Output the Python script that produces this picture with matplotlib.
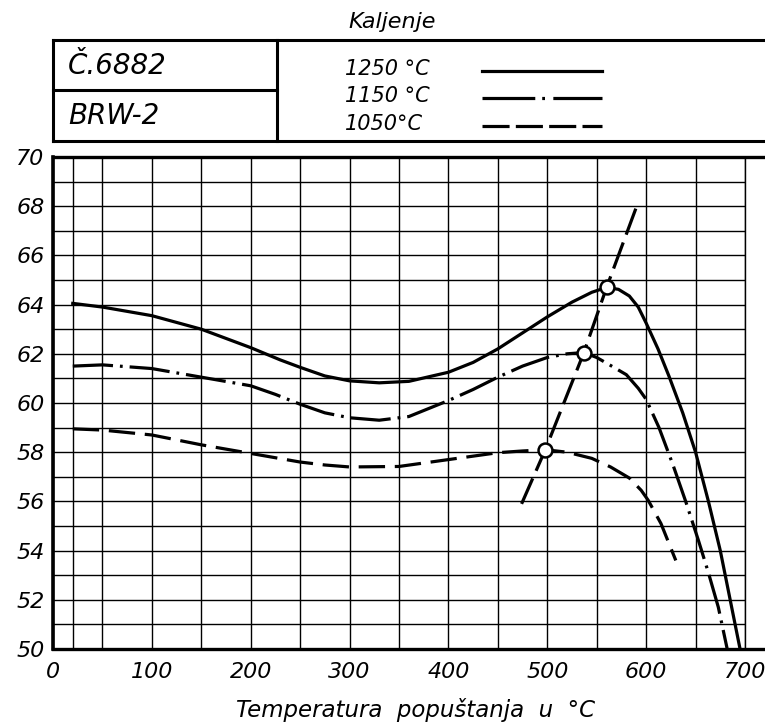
import matplotlib
matplotlib.use('Agg')
import matplotlib.pyplot as plt
from matplotlib.lines import Line2D

# tempering temperature (deg C) vs hardness
x_1250 = [20, 50, 100, 150, 200, 230, 250, 275, 300, 330, 360, 400, 425, 450, 475, 500, 525, 545, 560,
          572, 583, 592, 600, 612, 623, 637, 650, 663, 675, 685, 695]
y_1250 = [64.05, 63.9, 63.55, 63.0, 62.25, 61.75, 61.45, 61.1, 60.9, 60.82, 60.88, 61.25, 61.65, 62.2, 62.85,
          63.5, 64.1, 64.5, 64.7, 64.62, 64.35, 63.9, 63.25, 62.2, 61.1, 59.6, 58.0, 56.0, 54.0, 52.0, 50.0]

x_1150 = [20, 50, 100, 150, 200, 225, 250, 275, 300, 330, 360, 400, 425, 450, 475, 500, 520, 537, 550,
          563, 580, 592, 600, 613, 627, 640, 653, 663, 673, 682]
y_1150 = [61.5, 61.55, 61.4, 61.05, 60.7, 60.35, 59.95, 59.6, 59.4, 59.3, 59.45, 60.1, 60.55, 61.05, 61.5,
          61.85, 62.0, 62.05, 61.85, 61.55, 61.15, 60.6, 60.15, 59.0, 57.5, 56.0, 54.4, 53.1, 51.7, 50.0]

x_1050 = [20, 50, 100, 150, 200, 250, 275, 300, 350, 400, 450, 475, 498, 520, 545, 564, 583, 595, 602, 615, 630]
y_1050 = [58.95, 58.9, 58.7, 58.3, 57.95, 57.6, 57.48, 57.4, 57.42, 57.7, 57.98, 58.05, 58.1, 58.0, 57.75,
          57.4, 56.95, 56.45, 56.05, 55.1, 53.6]

# line through the maxima
x_max = [474, 498, 537, 560, 590]
y_max = [55.9, 58.1, 62.05, 64.7, 67.95]
x_pts = [498, 537, 560]
y_pts = [58.1, 62.05, 64.7]

legend_labels = ['1250 °C', '1150 °C', '1050°C']
x_ticks = [0, 100, 200, 300, 400, 500, 600, 700]
x_minor = [20, 50, 150, 250, 350, 450, 550, 650]
y_ticks = [50, 52, 54, 56, 58, 60, 62, 64, 66, 68, 70]
y_minor = [51, 53, 55, 57, 59, 61, 63, 65, 67, 69]

plt.rcParams['font.family'] = 'DejaVu Sans'
plt.rcParams['font.style'] = 'italic'
plt.rcParams['lines.scale_dashes'] = False

W, H = 765, 726
fig = plt.figure(figsize=(W / 100, H / 100), dpi=100)


def fx(px):
    return px / W


def fy(py):
    return 1 - py / H


ax = fig.add_axes([fx(53), fy(649), fx(745) - fx(53), fy(157) - fy(649)])
ax.set_xlim(0, 700)
ax.set_ylim(50, 70)

ax.set_xticks(x_ticks)
ax.set_xticks(x_minor, minor=True)
ax.set_yticks(y_ticks)
ax.set_yticks(y_minor, minor=True)
ax.grid(True, which='both', color='black', lw=1.0)
ax.tick_params(which='both', length=0, labelsize=16)
ax.tick_params(axis='x', pad=9)
ax.tick_params(axis='y', pad=6)
ax.set_axisbelow(True)

ax.spines['left'].set_linewidth(2.6)
ax.spines['right'].set_linewidth(1.0)
ax.spines['top'].set_visible(False)
ax.spines['bottom'].set_visible(False)

lw = 2.3
dash_1150 = (0, (29, 5, 2, 5))
dash_1050 = (0, (19, 7))
ax.plot(x_1250, y_1250, color='black', lw=lw, solid_joinstyle='round')
ax.plot(x_1150, y_1150, color='black', lw=lw, linestyle=dash_1150, dash_joinstyle='round')
ax.plot(x_1050, y_1050, color='black', lw=lw, linestyle=dash_1050, dash_joinstyle='round')
ax.plot(x_max, y_max, color='black', lw=lw, linestyle=(0, (20, 6)))
ax.plot(x_pts, y_pts, 'o', ms=10, mfc='white', mec='black', mew=1.8, zorder=5)

# extended frame lines (top and bottom run to the page edge)
for py in (157, 649):
    fig.add_artist(Line2D([fx(53), 1.0], [fy(py), fy(py)], color='black', lw=2.4,
                          transform=fig.transFigure))

# header box
box_lw = 2.2
fig.add_artist(Line2D([fx(53), 1.0], [fy(40), fy(40)], color='black', lw=box_lw, transform=fig.transFigure))
fig.add_artist(Line2D([fx(53), 1.0], [fy(141), fy(141)], color='black', lw=box_lw, transform=fig.transFigure))
fig.add_artist(Line2D([fx(53), fx(53)], [fy(40), fy(141)], color='black', lw=box_lw, transform=fig.transFigure))
fig.add_artist(Line2D([fx(277), fx(277)], [fy(40), fy(141)], color='black', lw=box_lw, transform=fig.transFigure))
fig.add_artist(Line2D([fx(53), fx(277)], [fy(90), fy(90)], color='black', lw=box_lw, transform=fig.transFigure))

fig.text(fx(392), fy(22), 'Kaljenje', ha='center', va='center', fontsize=16)
fig.text(fx(68), fy(66), 'Č.6882', ha='left', va='center', fontsize=20)
fig.text(fx(68), fy(116), 'BRW-2', ha='left', va='center', fontsize=20)

legend_y = [71, 98, 126]
legend_styles = ['-', (0, (38, 5, 2, 6)), (0, (19.5, 4.5))]
for lab, py, ls in zip(legend_labels, legend_y, legend_styles):
    fig.text(fx(345), fy(py - 2), lab, ha='left', va='center', fontsize=15)
    fig.add_artist(Line2D([fx(482), fx(602)], [fy(py), fy(py)], color='black', lw=lw,
                          linestyle=ls, transform=fig.transFigure))

fig.text(fx(416), fy(710), 'Temperatura  popuštanja  u  °C', ha='center', va='center', fontsize=16.5)

fig.savefig('out.png', dpi=100)
